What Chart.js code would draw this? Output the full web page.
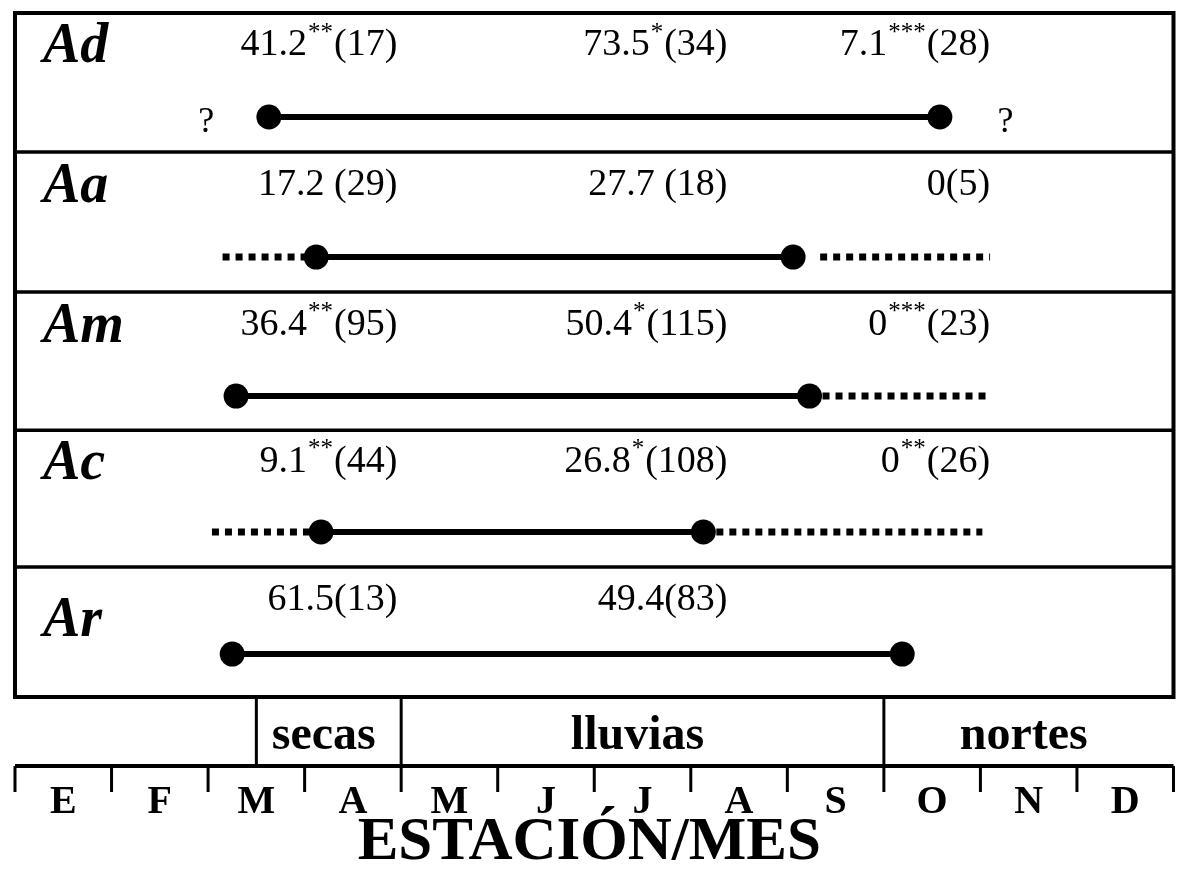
<!DOCTYPE html>
<html>
<head>
<meta charset="utf-8">
<script src="https://cdn.jsdelivr.net/npm/chart.js@4.4.0/dist/chart.umd.min.js"></script>
<style>
  body { margin: 0; background: #fff; }
  #wrap { width: 1186px; height: 871px; }
</style>
</head>
<body>
<div id="wrap"><canvas id="chart"></canvas></div>
<script>
// species rows
var species = ['Ad', 'Aa', 'Am', 'Ac', 'Ar'];

// activity periods, in months from 1 January (0 = start of E, 12 = end of D)
var solidStart = [2.63, 3.12, 2.29, 3.17, 2.25];
var solidEnd   = [9.58, 8.06, 8.23, 7.13, 9.19];
var dottedLeftFrom  = [null, 2.15, null, 2.04, null];
var dottedRightFrom = [null, 8.34, 8.23, 7.13, null];
var dottedRightTo   = [null, 10.10, 10.07, 10.02, null];
var unknownLeft  = [1.98, null, null, null, null];
var unknownRight = [10.26, null, null, null, null];

// values per season: mean (n) and significance
var meanSecas   = [41.2, 17.2, 36.4, 9.1, 61.5];
var nSecas      = [17, 29, 95, 44, 13];
var sigSecas    = ['**', '', '**', '**', ''];
var meanLluvias = [73.5, 27.7, 50.4, 26.8, 49.4];
var nLluvias    = [34, 18, 115, 108, 83];
var sigLluvias  = ['*', '', '*', '*', ''];
var meanNortes  = [7.1, 0, 0, 0, null];
var nNortes     = [28, 5, 23, 26, null];
var sigNortes   = ['***', '', '***', '**', ''];

// seasons and months
var seasons     = ['secas', 'lluvias', 'nortes'];
var seasonStart = [2.5, 4, 9];
var seasonEnd   = [4, 9, 12];
var months = ['E', 'F', 'M', 'A', 'M', 'J', 'J', 'A', 'S', 'O', 'N', 'D'];
var axisTitle = 'ESTACIÓN/MES';

// layout (not data), in y units where each row is about 1
var rowEdge = [0, 1.016, 2.04, 3.05, 4.05, 5];
var lineY  = [0.76, 1.784, 2.80, 3.794, 4.686];
var labelY = [0.234, 1.257, 2.28, 3.28, 4.29];
var nameY  = [0.256, 1.279, 2.30, 3.30, 4.45];
var colRight = [3.96, 7.38, 10.1];
var SERIF = '"Liberation Serif", "Times New Roman", serif';

var datasets = [];
for (var i = 0; i < species.length; i++) {
  var ly = lineY[i];
  datasets.push({
    label: species[i],
    data: [{x: solidStart[i], y: ly}, {x: solidEnd[i], y: ly}],
    showLine: true,
    borderColor: '#000',
    backgroundColor: '#000',
    borderWidth: 6,
    pointRadius: 12.5,
    pointHoverRadius: 12.5,
    pointBackgroundColor: '#000',
    pointBorderWidth: 0,
    order: 0
  });
  if (dottedLeftFrom[i] != null) {
    datasets.push({
      label: species[i] + ' antes',
      data: [{x: dottedLeftFrom[i], y: ly}, {x: solidStart[i], y: ly}],
      showLine: true,
      borderColor: '#000',
      borderWidth: 7,
      borderDash: [7, 6],
      borderCapStyle: 'butt',
      pointRadius: 0,
      order: 1
    });
  }
  if (dottedRightFrom[i] != null) {
    datasets.push({
      label: species[i] + ' despues',
      data: [{x: dottedRightFrom[i], y: ly}, {x: dottedRightTo[i], y: ly}],
      showLine: true,
      borderColor: '#000',
      borderWidth: 7,
      borderDash: [7, 6],
      borderCapStyle: 'butt',
      pointRadius: 0,
      order: 1
    });
  }
}

function fmt(v) {
  return v === 0 ? '0' : v.toFixed(1);
}

// draws "mean^sig(n)" right-aligned at xr, centred on y
function drawValue(ctx, xr, y, mean, sig, n, gap) {
  var big = '38px ' + SERIF;
  var small = '25px ' + SERIF;
  var a = fmt(mean);
  var b = (gap ? ' ' : '') + '(' + n + ')';
  ctx.font = big;
  var wa = ctx.measureText(a).width;
  var wb = ctx.measureText(b).width;
  ctx.font = small;
  var ws = sig ? ctx.measureText(sig).width + 2 : 0;
  var x = xr - (wa + ws + wb);
  ctx.textAlign = 'left';
  ctx.textBaseline = 'middle';
  ctx.font = big;
  ctx.fillText(a, x, y);
  if (sig) {
    ctx.font = small;
    ctx.fillText(sig, x + wa + 1, y - 12);
  }
  ctx.font = big;
  ctx.fillText(b, x + wa + ws, y);
}

var decor = {
  id: 'decor',
  afterDatasetsDraw: function(chart) {
    var ctx = chart.ctx;
    var xs = chart.scales.x, ys = chart.scales.y;
    var area = chart.chartArea;
    ctx.save();
    ctx.fillStyle = '#000';
    ctx.strokeStyle = '#000';

    // panel frame and row separators
    ctx.lineWidth = 4;
    ctx.strokeRect(area.left, area.top, area.right - area.left, area.bottom - area.top);
    ctx.lineWidth = 3.5;
    for (var r = 1; r < species.length; r++) {
      var py = ys.getPixelForValue(rowEdge[r]);
      ctx.beginPath();
      ctx.moveTo(area.left, py);
      ctx.lineTo(area.right, py);
      ctx.stroke();
    }

    // row names
    ctx.font = 'italic bold 56px ' + SERIF;
    ctx.textAlign = 'left';
    ctx.textBaseline = 'middle';
    for (var i = 0; i < species.length; i++) {
      ctx.fillText(species[i], area.left + 28, ys.getPixelForValue(nameY[i]));
    }

    // values
    for (i = 0; i < species.length; i++) {
      var ty = ys.getPixelForValue(labelY[i]);
      var gap = species[i] === 'Aa';
      drawValue(ctx, xs.getPixelForValue(colRight[0]), ty, meanSecas[i], sigSecas[i], nSecas[i], gap);
      drawValue(ctx, xs.getPixelForValue(colRight[1]), ty, meanLluvias[i], sigLluvias[i], nLluvias[i], gap);
      if (meanNortes[i] != null) {
        drawValue(ctx, xs.getPixelForValue(colRight[2]), ty, meanNortes[i], sigNortes[i], nNortes[i], false);
      }
    }

    // question marks
    ctx.font = '36px ' + SERIF;
    ctx.textAlign = 'center';
    for (i = 0; i < species.length; i++) {
      var qy = ys.getPixelForValue(lineY[i]) + 6;
      if (unknownLeft[i] != null) ctx.fillText('?', xs.getPixelForValue(unknownLeft[i]), qy);
      if (unknownRight[i] != null) ctx.fillText('?', xs.getPixelForValue(unknownRight[i]), qy);
    }

    // season row
    var top = area.bottom;
    var axisY = 766;
    ctx.lineWidth = 3;
    for (i = 0; i < seasons.length; i++) {
      var sx = xs.getPixelForValue(seasonStart[i]);
      ctx.beginPath();
      ctx.moveTo(sx, top);
      ctx.lineTo(sx, axisY);
      ctx.stroke();
    }
    ctx.font = 'bold 48px ' + SERIF;
    ctx.textAlign = 'center';
    ctx.textBaseline = 'alphabetic';
    for (i = 0; i < seasons.length; i++) {
      var cx = (xs.getPixelForValue(seasonStart[i]) + xs.getPixelForValue(seasonEnd[i])) / 2;
      ctx.fillText(seasons[i], cx - 5, 749);
    }

    // month axis
    ctx.lineWidth = 4;
    ctx.beginPath();
    ctx.moveTo(xs.getPixelForValue(0), axisY);
    ctx.lineTo(xs.getPixelForValue(12), axisY);
    ctx.stroke();
    ctx.lineWidth = 3;
    for (i = 0; i <= months.length; i++) {
      var tx = xs.getPixelForValue(i);
      ctx.beginPath();
      ctx.moveTo(tx, axisY);
      ctx.lineTo(tx, axisY + 26);
      ctx.stroke();
    }
    ctx.font = 'bold 40px ' + SERIF;
    for (i = 0; i < months.length; i++) {
      ctx.fillText(months[i], xs.getPixelForValue(i + 0.5), 813);
    }

    // axis title
    ctx.font = 'bold 61px ' + SERIF;
    ctx.fillText(axisTitle, (xs.getPixelForValue(0) + xs.getPixelForValue(12)) / 2 - 5, 859);
    ctx.restore();
  }
};

var chart = new Chart(document.getElementById('chart'), {
  type: 'scatter',
  data: { datasets: datasets },
  options: {
    responsive: true,
    maintainAspectRatio: false,
    animation: false,
    layout: { padding: { left: 15, right: 9, top: 13, bottom: 174 } },
    plugins: { legend: { display: false }, tooltip: { enabled: false } },
    scales: {
      x: { type: 'linear', min: 0, max: 12, display: false },
      y: { type: 'linear', min: 0, max: 5, reverse: true, display: false }
    }
  },
  plugins: [decor]
});
</script>
</body>
</html>
